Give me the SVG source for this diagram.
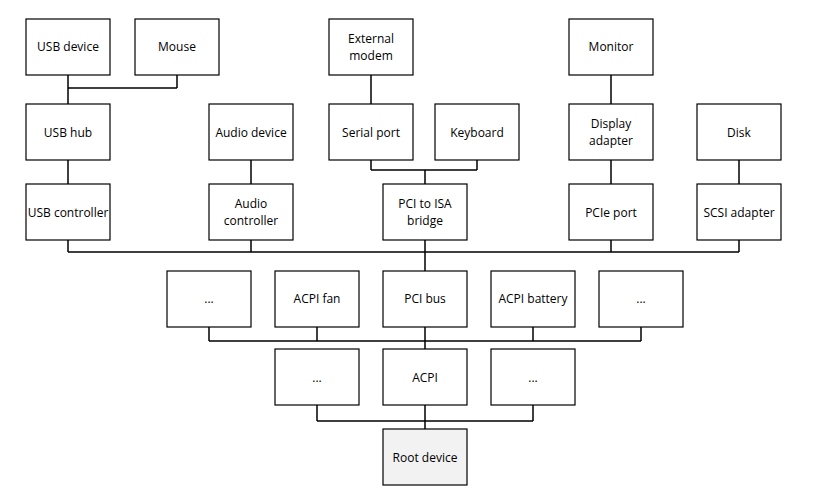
<svg xmlns="http://www.w3.org/2000/svg" width="815" height="493" viewBox="0 0 815 493">
<style>
.b{fill:#fff;stroke:#000;stroke-width:1.2}
.r{fill:#f2f2f2;stroke:#000;stroke-width:1.2}
text{font-family:"Open Sans","Liberation Sans",sans-serif;font-size:12px;text-anchor:middle;fill:#000}
.c{fill:none;stroke:#000;stroke-width:1.5}
</style>
<rect width="815" height="493" fill="#fff"/>
<g id="connectors">
<path class="c" d="M68 75V88M177 75V88M68 88H177M68 88V104"/>
<path class="c" d="M68 160V184M251 160V184M371 75V104M611 75V104M611 160V184M739 160V184"/>
<path class="c" d="M371 160V170M477 160V170M371 170H477M425 170V184"/>
<path class="c" d="M68 240V252M251 240V252M425 240V252M611 240V252M739 240V252M68 252H739M425 252V271"/>
<path class="c" d="M209 327V341M317 327V341M425 327V341M533 327V341M641 327V341M209 341H641M425 341V349"/>
<path class="c" d="M317 405V421M425 405V421M533 405V421M317 421H533M425 421V429"/>
</g>
<g id="usbdevice"><rect class="b" x="26" y="19" width="84" height="56"/><text x="68" y="51">USB device</text></g>
<g id="mouse"><rect class="b" x="135" y="19" width="84" height="56"/><text x="177" y="51">Mouse</text></g>
<g id="extmodem"><rect class="b" x="329" y="19" width="84" height="56"/><text x="371" y="43">External</text><text x="371" y="60">modem</text></g>
<g id="monitor"><rect class="b" x="569" y="19" width="84" height="56"/><text x="611" y="51">Monitor</text></g>
<g id="usbhub"><rect class="b" x="26" y="104" width="84" height="56"/><text x="68" y="137">USB hub</text></g>
<g id="audiodevice"><rect class="b" x="209" y="104" width="84" height="56"/><text x="251" y="137">Audio device</text></g>
<g id="serialport"><rect class="b" x="329" y="104" width="84" height="56"/><text x="371" y="137">Serial port</text></g>
<g id="keyboard"><rect class="b" x="435" y="104" width="84" height="56"/><text x="477" y="137">Keyboard</text></g>
<g id="displayadapter"><rect class="b" x="569" y="104" width="84" height="56"/><text x="611" y="128">Display</text><text x="611" y="145">adapter</text></g>
<g id="disk"><rect class="b" x="697" y="104" width="84" height="56"/><text x="739" y="137">Disk</text></g>
<g id="usbcontroller"><rect class="b" x="26" y="184" width="84" height="56"/><text x="68" y="217">USB controller</text></g>
<g id="audiocontroller"><rect class="b" x="209" y="184" width="84" height="56"/><text x="251" y="208">Audio</text><text x="251" y="225">controller</text></g>
<g id="pciisa"><rect class="b" x="383" y="184" width="84" height="56"/><text x="425" y="208">PCI to ISA</text><text x="425" y="225">bridge</text></g>
<g id="pcieport"><rect class="b" x="569" y="184" width="84" height="56"/><text x="611" y="217">PCIe port</text></g>
<g id="scsi"><rect class="b" x="697" y="184" width="84" height="56"/><text x="739" y="217">SCSI adapter</text></g>
<g id="dots1"><rect class="b" x="167" y="271" width="84" height="56"/><text x="209" y="303">...</text></g>
<g id="acpifan"><rect class="b" x="275" y="271" width="84" height="56"/><text x="317" y="303">ACPI fan</text></g>
<g id="pcibus"><rect class="b" x="383" y="271" width="84" height="56"/><text x="425" y="303">PCI bus</text></g>
<g id="acpibattery"><rect class="b" x="491" y="271" width="84" height="56"/><text x="533" y="303">ACPI battery</text></g>
<g id="dots2"><rect class="b" x="599" y="271" width="84" height="56"/><text x="641" y="303">...</text></g>
<g id="dots3"><rect class="b" x="275" y="349" width="84" height="56"/><text x="317" y="382">...</text></g>
<g id="acpi"><rect class="b" x="383" y="349" width="84" height="56"/><text x="425" y="382">ACPI</text></g>
<g id="dots4"><rect class="b" x="491" y="349" width="84" height="56"/><text x="533" y="382">...</text></g>
<g id="root"><rect class="r" x="383" y="429" width="84" height="56"/><text x="425" y="462">Root device</text></g>
</svg>
